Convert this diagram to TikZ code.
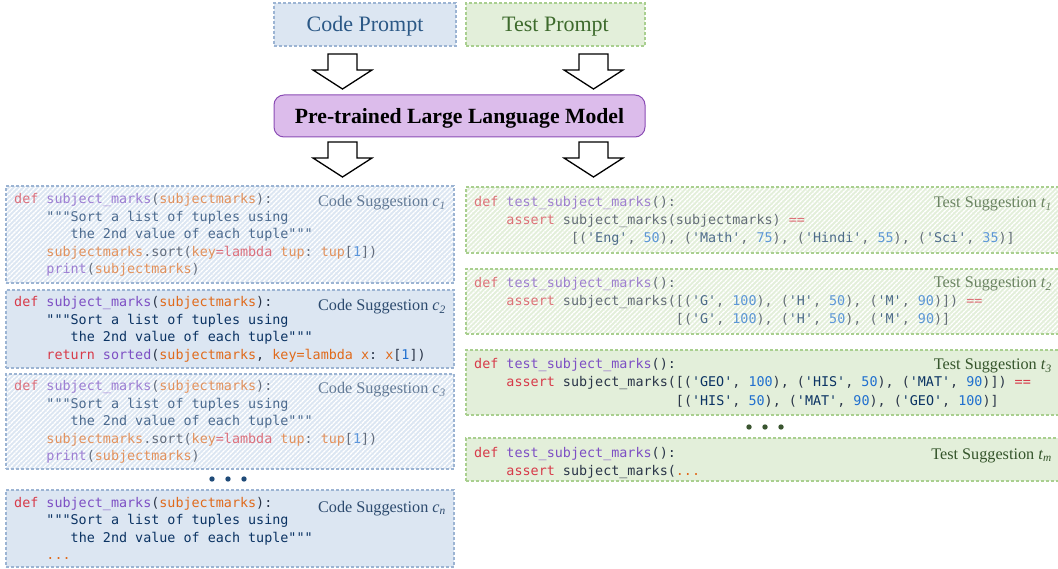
\documentclass[tikz,border=0pt]{standalone}
\usepackage{fontspec}
\setmainfont{Liberation Serif}
\setmonofont{DejaVu Sans Mono}
\usetikzlibrary{patterns.meta,calc}
\definecolor{ckwc}{HTML}{D73A49}
\definecolor{cfnc}{HTML}{7D4FC4}
\definecolor{cpac}{HTML}{E06A1B}
\definecolor{cstc}{HTML}{0B3363}
\definecolor{cnuc}{HTML}{1F6FCF}
\definecolor{ctxc}{HTML}{2A3548}
\definecolor{codefill}{HTML}{DCE6F2}
\definecolor{codedraw}{HTML}{9CB4D3}
\definecolor{codelab}{HTML}{2C4A6E}
\definecolor{testfill}{HTML}{E3EFDA}
\definecolor{testdraw}{HTML}{A9CF8F}
\definecolor{testlab}{HTML}{34542A}
\definecolor{llmfill}{HTML}{DCBCEB}
\definecolor{llmdraw}{HTML}{8A4CB4}
\definecolor{cptext}{HTML}{2B5886}
\definecolor{tptext}{HTML}{3D6A2C}
\definecolor{cdotc}{HTML}{1F4A78}
\definecolor{tdotc}{HTML}{3A5530}
\newcommand\ckw[1]{\textcolor{ckwc}{#1}}
\newcommand\cfn[1]{\textcolor{cfnc}{#1}}
\newcommand\cpa[1]{\textcolor{cpac}{#1}}
\newcommand\cst[1]{\textcolor{cstc}{#1}}
\newcommand\cnu[1]{\textcolor{cnuc}{#1}}
\newlength\cw
\setlength\cw{8.07pt}
\newcommand\ind[1]{\hspace*{#1\cw}}
\newcommand\codesize{\ttfamily\fontsize{13.4}{17.5}\selectfont}
\newcommand\testsize{\ttfamily\fontsize{13.4}{18}\selectfont}
\newcommand\labsize{\fontsize{16.2}{18}\selectfont}
\tikzset{
  boxbase/.style={rectangle, draw, dash pattern=on 3pt off 2pt, line width=1.1pt, inner sep=0pt},
  codebox/.style={boxbase, draw=codedraw, fill=codefill},
  testbox/.style={boxbase, draw=testdraw, fill=testfill},
  hcodebox/.style={boxbase, draw=codedraw, preaction={fill=codefill}, pattern={Lines[angle=45,distance=3.4pt,line width=1.3pt]}, pattern color=white},
  htestbox/.style={boxbase, draw=testdraw, preaction={fill=testfill}, pattern={Lines[angle=45,distance=3.4pt,line width=1.3pt]}, pattern color=white},
  codetxt/.style={inner sep=0pt, font=\codesize, text=ctxc, anchor=base west},
  testtxt/.style={inner sep=0pt, font=\testsize, text=ctxc, anchor=base west},
  codelabel/.style={inner sep=0pt, font=\labsize, text=codelab, anchor=base east},
  testlabel/.style={inner sep=0pt, font=\labsize, text=testlab, anchor=base east},
  faded/.style={text opacity=0.7},
  titletxt/.style={inner sep=0pt, font=\fontsize{22}{24}\selectfont, anchor=base},
  barrow/.style={draw=black, fill=white, line width=1.3pt, line join=miter},
  pics/blockarrow/.style={code={\draw[barrow] (-14.5,0) -- (14.5,0) -- (14.5,16) -- (29.5,16) -- (0,35) -- (-29.5,16) -- (-14.5,16) -- cycle;}},
  cdot/.style={circle, fill=cdotc, inner sep=0pt, minimum size=5.4pt},
  tdot/.style={circle, fill=tdotc, inner sep=0pt, minimum size=5.4pt}
}
\begin{document}
\begin{tikzpicture}[x=1pt,y=-1pt]
\useasboundingbox (0,0) rectangle (1058,569);
% prompts
\node[codebox, minimum width=182pt, minimum height=43pt] (cp) at (365,24.5) {};
\node[titletxt, text=cptext] (cpt) at (365,32) {Code Prompt};
\node[testbox, minimum width=179pt, minimum height=43pt] (tp) at (555.5,24.5) {};
\node[titletxt, text=tptext] (tpt) at (555.5,32) {Test Prompt};
\node[draw=llmdraw, fill=llmfill, line width=1pt, rounded corners=10pt, minimum width=371pt, minimum height=42pt, inner sep=0pt] (llm) at (459.5,116) {};
\node[inner sep=0pt, anchor=base, font=\bfseries\fontsize{21.7}{24}\selectfont] (llmt) at (459.5,123.5) {Pre-trained Large Language Model};
% block arrows
\coordinate (a1) at (342.5,54);
\coordinate (a2) at (593.5,54);
\coordinate (a3) at (342.5,142);
\coordinate (a4) at (593.5,142);
\pic at (a1) {blockarrow};
\pic at (a2) {blockarrow};
\pic at (a3) {blockarrow};
\pic at (a4) {blockarrow};
% code suggestions
\node[hcodebox, minimum width=448pt, minimum height=97pt] (c1) at (230,234.5) {};
\node[codetxt, faded] (c1t) at (14,204) {\begin{tabular}[t]{@{}l@{}}
\ckw{def} \cfn{subject\_marks}(\cpa{subjectmarks}):\\
\ind{4}\cst{"""Sort a list of tuples using}\\
\ind{7}\cst{the 2nd value of each tuple"""}\\
\ind{4}\cpa{subjectmarks}.sort(\cpa{key}\ckw{=lambda} \cpa{tup}: \cpa{tup}[\cnu{1}])\\
\ind{4}\cfn{print}(\cpa{subjectmarks})
\end{tabular}};
\node[codelabel, faded] (c1l) at (446,207) {Code Suggestion \textit{c}\textsubscript{\textit{1}}};

\node[codebox, minimum width=448pt, minimum height=78pt] (c2) at (230,329) {};
\node[codetxt] (c2t) at (14,307) {\begin{tabular}[t]{@{}l@{}}
\ckw{def} \cfn{subject\_marks}(\cpa{subjectmarks}):\\
\ind{4}\cst{"""Sort a list of tuples using}\\
\ind{7}\cst{the 2nd value of each tuple"""}\\
\ind{4}\ckw{return} \cfn{sorted}(\cpa{subjectmarks}, \cpa{key=lambda x}: \cpa{x}[\cnu{1}])
\end{tabular}};
\node[codelabel] (c2l) at (446,311) {Code Suggestion \textit{c}\textsubscript{\textit{2}}};

\node[hcodebox, minimum width=448pt, minimum height=95pt] (c3) at (230,421.5) {};
\node[codetxt, faded] (c3t) at (14,391) {\begin{tabular}[t]{@{}l@{}}
\ckw{def} \cfn{subject\_marks}(\cpa{subjectmarks}):\\
\ind{4}\cst{"""Sort a list of tuples using}\\
\ind{7}\cst{the 2nd value of each tuple"""}\\
\ind{4}\cpa{subjectmarks}.sort(\cpa{key}\ckw{=lambda} \cpa{tup}: \cpa{tup}[\cnu{1}])\\
\ind{4}\cfn{print}(\cpa{subjectmarks})
\end{tabular}};
\node[codelabel, faded] (c3l) at (446,394) {Code Suggestion \textit{c}\textsubscript{\textit{3}}};

\node[cdot] (cd1) at (212,479) {};
\node[cdot] (cd2) at (228,479) {};
\node[cdot] (cd3) at (244,479) {};

\node[codebox, minimum width=448pt, minimum height=77pt] (cn) at (230,528.5) {};
\node[codetxt] (cnt) at (14,507) {\begin{tabular}[t]{@{}l@{}}
\ckw{def} \cfn{subject\_marks}(\cpa{subjectmarks}):\\
\ind{4}\cst{"""Sort a list of tuples using}\\
\ind{7}\cst{the 2nd value of each tuple"""}\\
\ind{4}\cpa{...}
\end{tabular}};
\node[codelabel] (cnl) at (446,512) {Code Suggestion \textit{c}\textsubscript{\textit{n}}};

% test suggestions
\node[htestbox, minimum width=596pt, minimum height=66pt] (t1) at (764,220) {};
\node[testtxt, faded] (t1t) at (474,207) {\begin{tabular}[t]{@{}l@{}}
\ckw{def} \cfn{test\_subject\_marks}():\\
\ind{4}\ckw{assert} subject\_marks(subjectmarks) \ckw{==}\\
\ind{12}[(\cst{'Eng'}, \cnu{50}), (\cst{'Math'}, \cnu{75}), (\cst{'Hindi'}, \cnu{55}), (\cst{'Sci'}, \cnu{35})]
\end{tabular}};
\node[testlabel, faded] (t1l) at (1052,208) {Test Suggestion \textit{t}\textsubscript{\textit{1}}};

\node[htestbox, minimum width=596pt, minimum height=65pt] (t2) at (764,301.5) {};
\node[testtxt, faded] (t2t) at (474,288) {\begin{tabular}[t]{@{}l@{}}
\ckw{def} \cfn{test\_subject\_marks}():\\
\ind{4}\ckw{assert} subject\_marks([(\cst{'G'}, \cnu{100}), (\cst{'H'}, \cnu{50}), (\cst{'M'}, \cnu{90})]) \ckw{==}\\
\ind{25}[(\cst{'G'}, \cnu{100}), (\cst{'H'}, \cnu{50}), (\cst{'M'}, \cnu{90})]
\end{tabular}};
\node[testlabel, faded] (t2l) at (1052,288) {Test Suggestion \textit{t}\textsubscript{\textit{2}}};

\node[testbox, minimum width=596pt, minimum height=65pt] (t3) at (764,382.5) {};
\node[testtxt] (t3t) at (474,369) {\begin{tabular}[t]{@{}l@{}}
\ckw{def} \cfn{test\_subject\_marks}():\\
\ind{4}\ckw{assert} subject\_marks([(\cst{'GEO'}, \cnu{100}), (\cst{'HIS'}, \cnu{50}), (\cst{'MAT'}, \cnu{90})]) \ckw{==}\\
\ind{25}[(\cst{'HIS'}, \cnu{50}), (\cst{'MAT'}, \cnu{90}), (\cst{'GEO'}, \cnu{100})]
\end{tabular}};
\node[testlabel] (t3l) at (1052,370) {Test Suggestion \textit{t}\textsubscript{\textit{3}}};

\node[tdot] (td1) at (749,427) {};
\node[tdot] (td2) at (765,427) {};
\node[tdot] (td3) at (781,427) {};

\node[testbox, minimum width=596pt, minimum height=43pt] (tm) at (764,459.5) {};
\node[testtxt] (tmt) at (474,457) {\begin{tabular}[t]{@{}l@{}}
\ckw{def} \cfn{test\_subject\_marks}():\\
\ind{4}\ckw{assert} subject\_marks(\cpa{...}
\end{tabular}};
\node[testlabel] (tml) at (1052,459) {Test Suggestion \textit{t}\textsubscript{\textit{m}}};
\end{tikzpicture}
\end{document}
